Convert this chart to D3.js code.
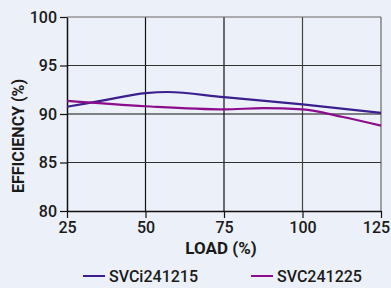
<!DOCTYPE html>
<html>
<head>
<meta charset="utf-8">
<script src="https://cdn.jsdelivr.net/npm/d3@7"></script>
<style>
  html, body { margin: 0; padding: 0; background: #ecf0f8; }
  svg { display: block; }
  text { font-family: Roboto, "DejaVu Sans", sans-serif; fill: #1a1a1a; }
</style>
</head>
<body>
<div id="chart"></div>
<script>
// data
var loadTicks = [25, 50, 75, 100, 125];
var effTicks = [80, 85, 90, 95, 100];

var svciLoad = [25, 37.5, 50, 57, 75, 100, 125];
var svciEff  = [90.75, 91.45, 92.15, 92.27, 91.73, 91.0, 90.12];

var svcLoad = [25, 50, 75, 87.5, 100, 112.5, 125];
var svcEff  = [91.35, 90.8, 90.48, 90.6, 90.48, 89.72, 88.8];

var seriesNames = ["SVCi241215", "SVC241225"];
var seriesColors = ["#3b1f8e", "#8c0c8c"];

var width = 391,
    height = 288;

var svg = d3.select("#chart").append("svg")
    .attr("width", width)
    .attr("height", height);

svg.append("rect")
    .attr("width", width)
    .attr("height", height)
    .attr("fill", "#ecf0f8");

var x = d3.scaleLinear().domain([25, 125]).range([67, 381]);
var y = d3.scaleLinear().domain([80, 100]).range([211, 17]);

/* grid */
var grid = svg.append("g");
grid.selectAll(".vgrid")
    .data(loadTicks.slice(1))
    .enter()
    .append("line")
    .attr("x1", function(d){return x(d)})
    .attr("x2", function(d){return x(d)})
    .attr("y1", y(80))
    .attr("y2", y(100))
    .attr("stroke", function(d){return d == 125 ? "#8a8a8a" : (d == 100 ? "#444" : "#111")})
    .attr("stroke-width", function(d){return d == 125 ? 1.6 : 1.2});
grid.selectAll(".hgrid")
    .data(effTicks.slice(1))
    .enter()
    .append("line")
    .attr("x1", x(25))
    .attr("x2", x(125))
    .attr("y1", function(d){return y(d)})
    .attr("y2", function(d){return y(d)})
    .attr("stroke", function(d){return d == 100 ? "#666" : (d == 90 ? "#111" : "#333")})
    .attr("stroke-width", 1.2);

/* axes */
var xAxis = svg.append("g")
    .attr("transform", "translate(0," + y(80) + ")")
    .call(d3.axisBottom(x).tickValues(loadTicks).tickSize(7).tickSizeOuter(0).tickPadding(4));
var yAxis = svg.append("g")
    .attr("transform", "translate(" + x(25) + ",0)")
    .call(d3.axisLeft(y).tickValues(effTicks).tickSize(7).tickSizeOuter(0).tickPadding(3));

[xAxis, yAxis].forEach(function(a){
    a.select(".domain").attr("stroke", "#111").attr("stroke-width", 1.5);
    a.selectAll(".tick line").attr("stroke", "#111").attr("stroke-width", 1.2);
    a.selectAll(".tick text")
        .attr("fill", "#1a1a1a")
        .style("font-family", "Roboto, sans-serif")
        .style("font-size", "16px")
        .style("font-weight", 500);
});
// last label sits against the right edge
xAxis.selectAll(".tick text").filter(function(d){return d == 125}).attr("dx", -5);

/* series */
var line = d3.line()
    .x(function(d){return x(d[0])})
    .y(function(d){return y(d[1])})
    .curve(d3.curveMonotoneX);

var series = [d3.zip(svciLoad, svciEff), d3.zip(svcLoad, svcEff)];

svg.selectAll(".series")
    .data(series)
    .enter()
    .append("path")
    .attr("class", "series")
    .attr("d", line)
    .attr("fill", "none")
    .attr("stroke", function(d, i){return seriesColors[i]})
    .attr("stroke-width", 2.2);

/* axis titles */
svg.append("text")
    .attr("x", 221)
    .attr("y", 254)
    .attr("text-anchor", "middle")
    .style("font-size", "17px")
    .style("font-weight", 700)
    .text("LOAD (%)");

svg.append("text")
    .attr("transform", "translate(24,136) rotate(-90)")
    .attr("text-anchor", "middle")
    .style("font-size", "16px")
    .style("font-weight", 700)
    .text("EFFICIENCY (%)");

/* legend */
var legendX = [83, 251];
var legend = svg.selectAll(".legend")
    .data(seriesNames)
    .enter()
    .append("g")
    .attr("class", "legend")
    .attr("transform", function(d, i){return "translate(" + legendX[i] + ",276)"});
legend.append("line")
    .attr("x1", 0)
    .attr("x2", 22)
    .attr("stroke", function(d, i){return seriesColors[i]})
    .attr("stroke-width", 2);
legend.append("text")
    .attr("x", 26)
    .attr("y", 6)
    .style("font-size", "16px")
    .style("font-weight", 500)
    .text(function(d){return d});
</script>
</body>
</html>
